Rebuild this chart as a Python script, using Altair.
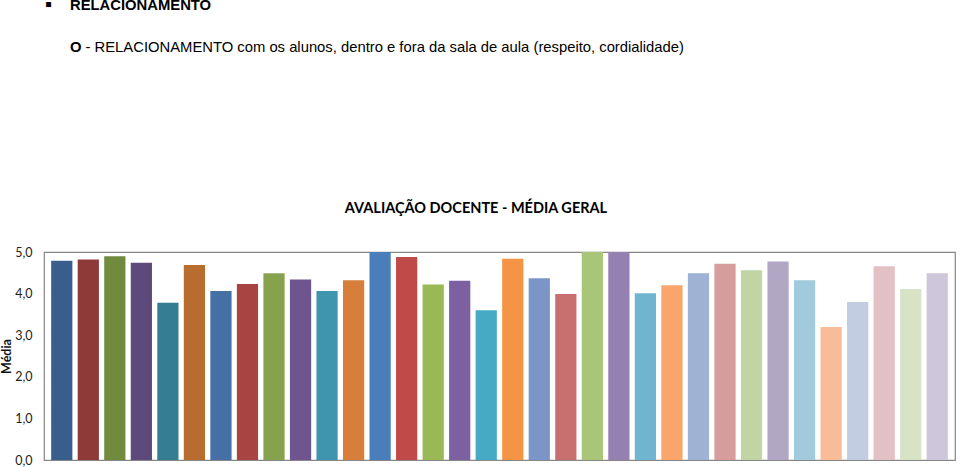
import altair as alt
import pandas as pd

# ---- data -------------------------------------------------------------
professores = [f"P{i:02d}" for i in range(1, 35)]
medias = [4.79, 4.82, 4.90, 4.74, 3.78, 4.69, 4.06, 4.23, 4.49, 4.34,
          4.06, 4.32, 5.00, 4.88, 4.22, 4.31, 3.60, 4.84, 4.37, 3.99,
          5.00, 5.00, 4.01, 4.20, 4.49, 4.72, 4.56, 4.77, 4.32, 3.20,
          3.80, 4.66, 4.11, 4.49]
cores = ["#3A5E8C", "#8E3A38", "#708A3E", "#5D4A7A", "#357E91", "#B86D2F",
         "#4470A6", "#A84543", "#87A24C", "#6F558F", "#4095AE", "#D77F3A",
         "#4A7EBB", "#BE4B48", "#98B954", "#7D60A0", "#46AAC5", "#F59444",
         "#7B96C6", "#C87070", "#A9C577", "#9580B2", "#6FB5CF", "#F9A56C",
         "#9EB2D5", "#D79D9D", "#C1D4A3", "#B1A7C5", "#A1CADD", "#F9BB98",
         "#C2CDE2", "#E3C0C3", "#D7E2C6", "#CEC6DA"]

titulo = "AVALIAÇÃO DOCENTE - MÉDIA GERAL"
cabecalho = "RELACIONAMENTO"
item_letra = "O"
item_texto = "- RELACIONAMENTO com os alunos, dentro e fora da sala de aula (respeito, cordialidade)"

df = pd.DataFrame({"prof": professores, "media": medias})

W, H = 911, 208

bars = alt.Chart(df).mark_bar().encode(
    x=alt.X("prof:N", sort=professores,
            scale=alt.Scale(paddingInner=0.2, paddingOuter=0.27),
            axis=alt.Axis(labels=False, ticks=False, title=None, domain=False)),
    y=alt.Y("media:Q", scale=alt.Scale(domain=[0, 5], nice=False),
            axis=alt.Axis(values=[0, 1, 2, 3, 4, 5], grid=False, ticks=False,
                          domain=False,
                          labelExpr="replace(format(datum.value, '.1f'), '.', ',')",
                          labelFont="Lato", labelFontSize=12.5, labelColor="#222222",
                          labelPadding=12,
                          title="Média", titleFont="Lato", titleFontSize=12.5,
                          titleFontWeight="bold", titleColor="#111111",
                          titlePadding=1)),
    color=alt.Color("prof:N", sort=professores,
                    scale=alt.Scale(domain=professores, range=cores), legend=None),
)

def txt(text, x, y, size, weight="normal", font="Liberation Sans", align="left"):
    return alt.Chart(pd.DataFrame({"t": [text]})).mark_text(
        align=align, baseline="alphabetic", fontSize=size, fontWeight=weight,
        font=font, color="#000000"
    ).encode(text="t:N", x=alt.value(x), y=alt.value(y))

titulo_mark = alt.Chart(pd.DataFrame({"t": [titulo]})).mark_text(
    align="center", baseline="middle", fontSize=14.5, fontWeight="bold",
    font="Lato", color="#000000"
).encode(text="t:N", x=alt.value(476 - 44), y=alt.value(209 - 252))

chart = alt.layer(
    bars,
    titulo_mark,
    txt("▪", 45 - 44, 11 - 252, 20),
    txt(cabecalho, 70 - 44, 10 - 252, 14.8, "bold"),
    txt(item_letra, 70 - 44, 52 - 252, 14.8, "bold"),
    txt(item_texto, 85.5 - 44, 52 - 252, 14.8),
).properties(
    width=W, height=H,
    autosize=alt.AutoSizeParams(type="none"),
    padding={"left": 44, "top": 252, "right": 5, "bottom": 7},
    background="white",
).configure_view(stroke="#868686", strokeWidth=1.2)

chart.save("out.html", embed_options={"renderer": "svg", "actions": False})
